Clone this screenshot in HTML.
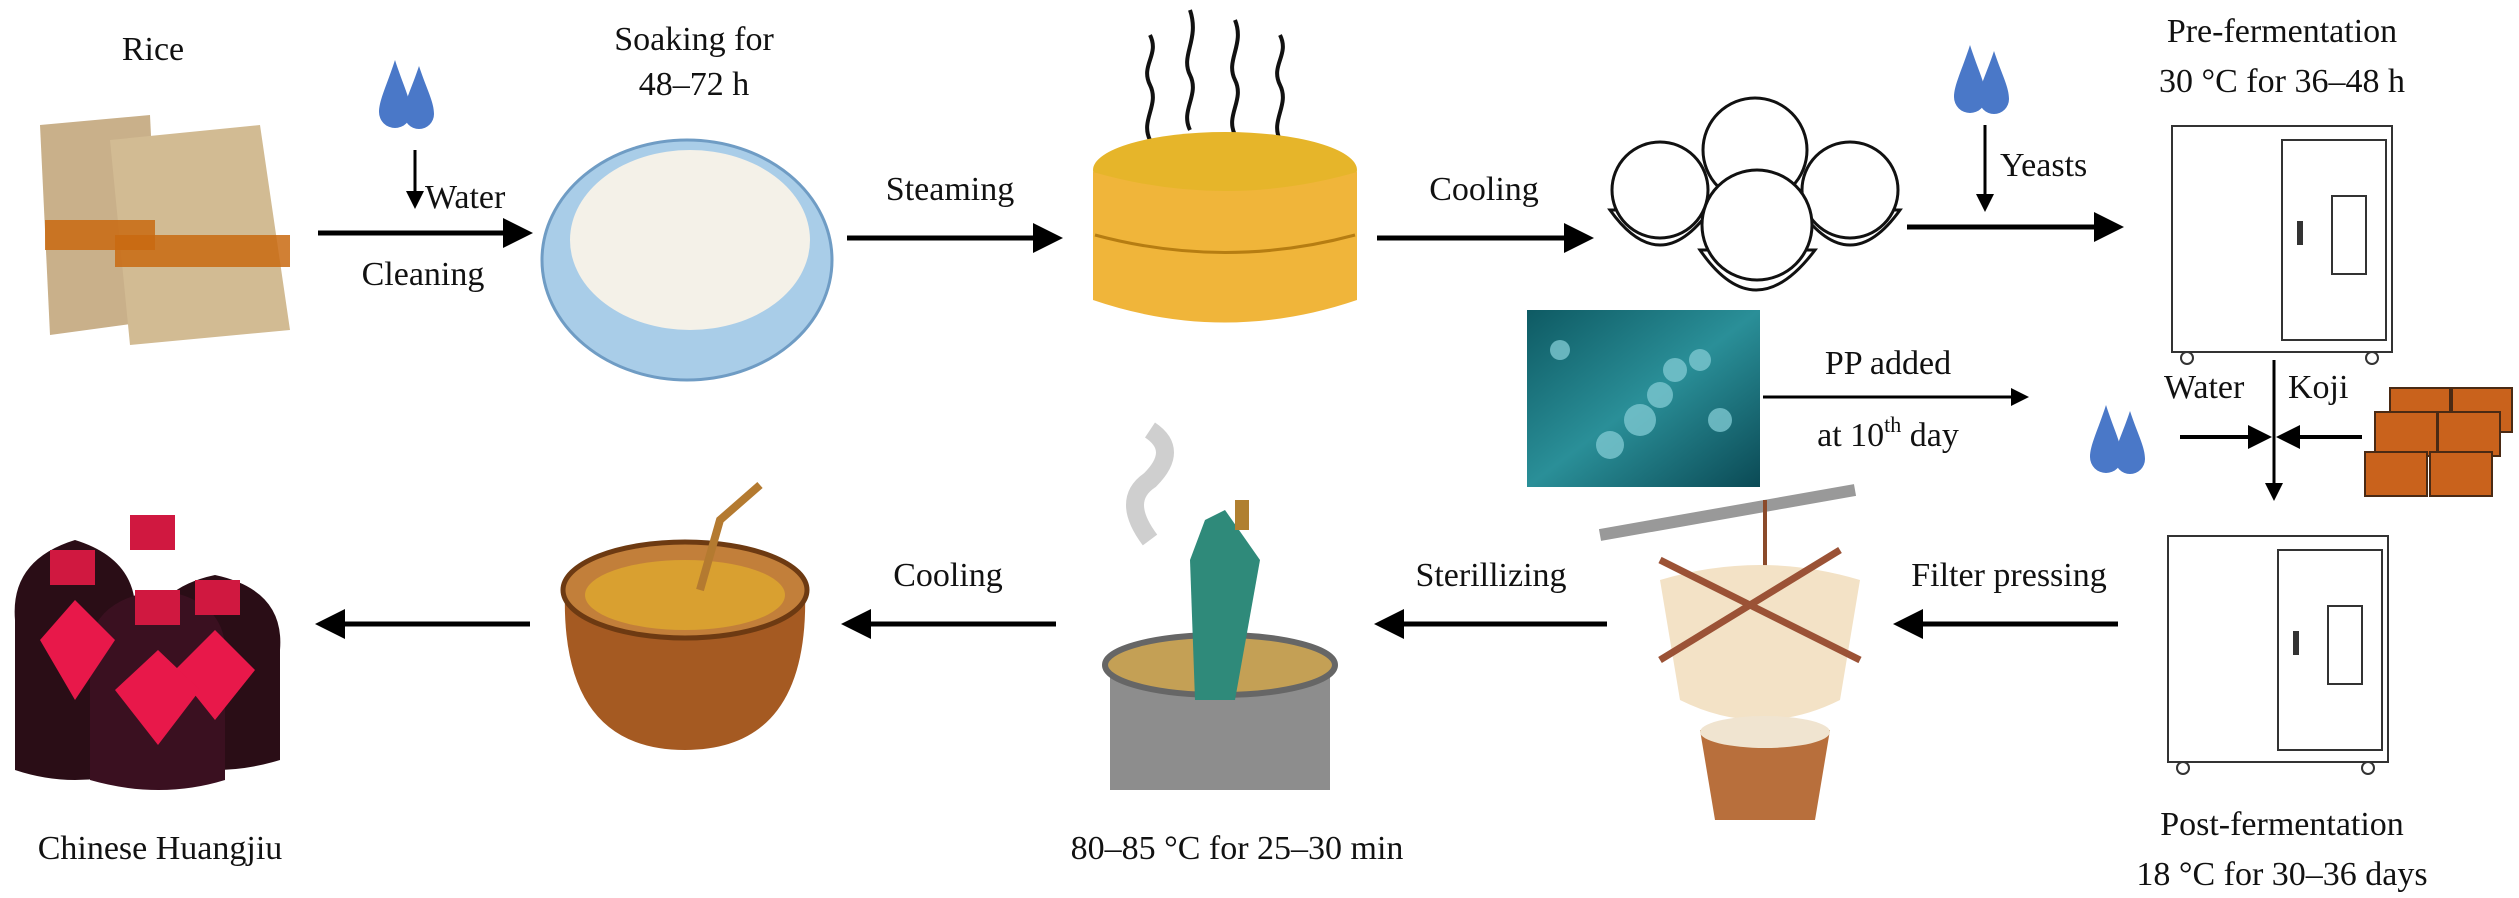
<!DOCTYPE html>
<html><head><style>
body{margin:0;background:#fff}
svg{display:block}
text{font-family:"Liberation Serif",serif;font-size:34px;fill:#111}
</style></head><body>
<svg width="2519" height="898" viewBox="0 0 2519 898">
<defs>
<marker id="ah" markerWidth="6" markerHeight="6" refX="5" refY="3" orient="auto" markerUnits="strokeWidth"><path d="M0,0 L6,3 L0,6 Z" fill="#000"/></marker>
<g id="drops"><path d="M0,-40 C-8,-15 -16,0 -16,12 a16,16 0 0 0 32,0 C16,0 8,-15 0,-40Z" fill="#4a78c8"/><path d="M24,-34 C16,-10 9,2 9,14 a15,15 0 0 0 30,0 C39,2 32,-10 24,-34Z" fill="#4a78c8"/></g>
<g id="fridge"><rect x="0" y="0" width="220" height="226" fill="#fff" stroke="#333" stroke-width="2"/><rect x="110" y="14" width="104" height="200" fill="none" stroke="#333" stroke-width="2"/><rect x="160" y="70" width="34" height="78" fill="none" stroke="#333" stroke-width="2"/><rect x="125" y="95" width="6" height="24" fill="#333"/><circle cx="15" cy="232" r="6" fill="none" stroke="#333" stroke-width="2"/><circle cx="200" cy="232" r="6" fill="none" stroke="#333" stroke-width="2"/></g>
<linearGradient id="teal" x1="0" y1="0" x2="1" y2="1"><stop offset="0" stop-color="#0e5a63"/><stop offset="0.5" stop-color="#2a8f98"/><stop offset="1" stop-color="#0b4a55"/></linearGradient>
</defs>

<text x="153" y="60" text-anchor="middle">Rice</text>
<g>
<path d="M40,125 L150,115 L160,320 L50,335 Z" fill="#c9b08a"/>
<path d="M110,140 L260,125 L290,330 L130,345 Z" fill="#d2bb93"/>
<rect x="45" y="220" width="110" height="30" fill="#c96a10" opacity="0.85"/>
<rect x="115" y="235" width="175" height="32" fill="#c96a10" opacity="0.85"/>
</g>
<use href="#drops" x="395" y="100"/>
<line x1="415" y1="150" x2="415" y2="206" stroke="#000" stroke-width="3" marker-end="url(#ah)"/>
<text x="425" y="208">Water</text>
<line x1="318" y1="233" x2="528" y2="233" stroke="#000" stroke-width="5" marker-end="url(#ah)"/>
<text x="423" y="285" text-anchor="middle">Cleaning</text>

<text x="694" y="50" text-anchor="middle">Soaking for</text>
<text x="694" y="95" text-anchor="middle">48–72 h</text>
<ellipse cx="687" cy="260" rx="145" ry="120" fill="#a9cde8" stroke="#6f9cc4" stroke-width="3"/>
<ellipse cx="690" cy="240" rx="120" ry="90" fill="#f4f1e8"/>

<text x="950" y="200" text-anchor="middle">Steaming</text>
<line x1="847" y1="238" x2="1058" y2="238" stroke="#000" stroke-width="5" marker-end="url(#ah)"/>
<g fill="none" stroke="#111" stroke-width="4">
<path d="M1150,140 c-10,-20 10,-35 0,-55 c-10,-20 10,-30 0,-50"/>
<path d="M1190,130 c-10,-20 10,-35 0,-55 c-10,-20 10,-35 0,-65"/>
<path d="M1235,135 c-10,-20 10,-35 0,-55 c-10,-20 10,-35 0,-60"/>
<path d="M1280,140 c-10,-20 10,-35 0,-55 c-10,-20 10,-30 0,-50"/>
</g>
<ellipse cx="1225" cy="170" rx="132" ry="38" fill="#e6b52a"/>
<path d="M1093,172 L1093,300 Q1225,345 1357,300 L1357,172 Q1225,210 1093,172Z" fill="#f0b53a"/>
<path d="M1095,235 Q1225,270 1355,235" stroke="#b67d12" stroke-width="3" fill="none"/>

<text x="1484" y="200" text-anchor="middle">Cooling</text>
<line x1="1377" y1="238" x2="1589" y2="238" stroke="#000" stroke-width="5" marker-end="url(#ah)"/>
<g fill="#fff" stroke="#111" stroke-width="3">
<path d="M1610,210 Q1660,280 1710,210 Z"/><circle cx="1660" cy="190" r="48"/>
<path d="M1800,210 Q1850,280 1900,210 Z"/><circle cx="1850" cy="190" r="48"/>
<circle cx="1755" cy="150" r="52"/>
<path d="M1700,250 Q1755,330 1815,250 Z"/><circle cx="1757" cy="225" r="55"/>
</g>

<use href="#drops" x="1970" y="85"/>
<line x1="1985" y1="125" x2="1985" y2="209" stroke="#000" stroke-width="3" marker-end="url(#ah)"/>
<text x="2000" y="176">Yeasts</text>
<line x1="1907" y1="227" x2="2119" y2="227" stroke="#000" stroke-width="5" marker-end="url(#ah)"/>
<text x="2282" y="42" text-anchor="middle">Pre-fermentation</text>
<text x="2282" y="92" text-anchor="middle">30 °C for 36–48 h</text>
<use href="#fridge" x="2172" y="126"/>

<rect x="1527" y="310" width="233" height="177" fill="url(#teal)"/>
<g fill="#7cc7d0" opacity="0.8"><circle cx="1640" cy="420" r="16"/><circle cx="1660" cy="395" r="13"/><circle cx="1675" cy="370" r="12"/><circle cx="1700" cy="360" r="11"/><circle cx="1610" cy="445" r="14"/><circle cx="1720" cy="420" r="12"/><circle cx="1560" cy="350" r="10"/></g>
<text x="1888" y="374" text-anchor="middle">PP added</text>
<line x1="1763" y1="397" x2="2026" y2="397" stroke="#000" stroke-width="3" marker-end="url(#ah)"/>
<text x="1888" y="446" text-anchor="middle">at 10<tspan font-size="22" dy="-14">th</tspan><tspan dy="14"> day</tspan></text>
<use href="#drops" x="2106" y="445"/>
<text x="2164" y="398">Water</text>
<text x="2288" y="398">Koji</text>
<line x1="2274" y1="360" x2="2274" y2="498" stroke="#000" stroke-width="3" marker-end="url(#ah)"/>
<line x1="2180" y1="437" x2="2268" y2="437" stroke="#000" stroke-width="4" marker-end="url(#ah)"/>
<line x1="2362" y1="437" x2="2280" y2="437" stroke="#000" stroke-width="4" marker-end="url(#ah)"/>
<g fill="#c9621c" stroke="#4a2a14" stroke-width="2">
<rect x="2390" y="388" width="60" height="44"/><rect x="2452" y="388" width="60" height="44"/>
<rect x="2375" y="412" width="62" height="44"/><rect x="2438" y="412" width="62" height="44"/>
<rect x="2365" y="452" width="62" height="44"/><rect x="2430" y="452" width="62" height="44"/>
</g>

<use href="#fridge" x="2168" y="536"/>
<text x="2282" y="835" text-anchor="middle">Post-fermentation</text>
<text x="2282" y="885" text-anchor="middle">18 °C for 30–36 days</text>
<text x="2009" y="586" text-anchor="middle">Filter pressing</text>
<line x1="2118" y1="624" x2="1898" y2="624" stroke="#000" stroke-width="5" marker-end="url(#ah)"/>
<path d="M1600,535 L1855,490" stroke="#999" stroke-width="12"/>
<line x1="1765" y1="500" x2="1765" y2="600" stroke="#8b4a2a" stroke-width="4"/>
<path d="M1660,580 Q1760,550 1860,580 L1840,700 Q1760,740 1680,700 Z" fill="#f3e2c6"/>
<line x1="1660" y1="560" x2="1860" y2="660" stroke="#9b5236" stroke-width="7"/>
<line x1="1840" y1="550" x2="1660" y2="660" stroke="#9b5236" stroke-width="7"/>
<path d="M1700,730 L1830,730 L1815,820 L1715,820 Z" fill="#b86f3c"/>
<ellipse cx="1765" cy="732" rx="65" ry="16" fill="#f0e4d0"/>

<text x="1491" y="586" text-anchor="middle">Sterillizing</text>
<line x1="1607" y1="624" x2="1379" y2="624" stroke="#000" stroke-width="5" marker-end="url(#ah)"/>
<path d="M1150,540 q-30,-40 0,-60 q30,-30 0,-50" stroke="#bbb" stroke-width="18" fill="none" opacity="0.7"/>
<path d="M1110,665 L1110,790 L1330,790 L1330,665 Z" fill="#8d8d8d"/>
<ellipse cx="1220" cy="665" rx="115" ry="30" fill="#c4a055" stroke="#666" stroke-width="6"/>
<path d="M1205,520 L1225,510 L1260,560 L1235,700 L1195,700 L1190,560 Z" fill="#2f8a7a"/>
<rect x="1235" y="500" width="14" height="30" fill="#b08030"/>
<text x="1237" y="859" text-anchor="middle">80–85 °C for 25–30 min</text>

<text x="948" y="586" text-anchor="middle">Cooling</text>
<line x1="1056" y1="624" x2="846" y2="624" stroke="#000" stroke-width="5" marker-end="url(#ah)"/>
<path d="M565,590 Q560,750 685,750 Q810,750 805,590 Z" fill="#a55a22"/>
<ellipse cx="685" cy="590" rx="122" ry="48" fill="#c27f3a" stroke="#6d3a12" stroke-width="5"/>
<ellipse cx="685" cy="595" rx="100" ry="35" fill="#d9a030"/>
<path d="M700,590 L720,520 L760,485" stroke="#b47a30" stroke-width="8" fill="none"/>

<line x1="530" y1="624" x2="320" y2="624" stroke="#000" stroke-width="5" marker-end="url(#ah)"/>
<g>
<path d="M15,620 Q10,560 75,540 Q140,560 135,620 L135,770 Q75,790 15,770Z" fill="#2a0d16"/>
<path d="M150,650 Q145,590 215,575 Q285,590 280,650 L280,760 Q215,780 150,760Z" fill="#2a0d16"/>
<path d="M90,660 Q85,600 160,590 Q230,600 225,660 L225,780 Q160,800 90,780Z" fill="#3a1020"/>
<path d="M40,640 L75,600 L115,640 L75,700Z" fill="#e8184a"/>
<path d="M175,670 L215,630 L255,670 L215,720Z" fill="#e8184a"/>
<path d="M115,690 L158,650 L200,690 L158,745Z" fill="#e8184a"/>
<rect x="130" y="515" width="45" height="35" fill="#d01840"/>
<rect x="50" y="550" width="45" height="35" fill="#d01840"/>
<rect x="195" y="580" width="45" height="35" fill="#d01840"/>
<rect x="135" y="590" width="45" height="35" fill="#d01840"/>
</g>
<text x="160" y="859" text-anchor="middle">Chinese Huangjiu</text>
</svg>
</body></html>
